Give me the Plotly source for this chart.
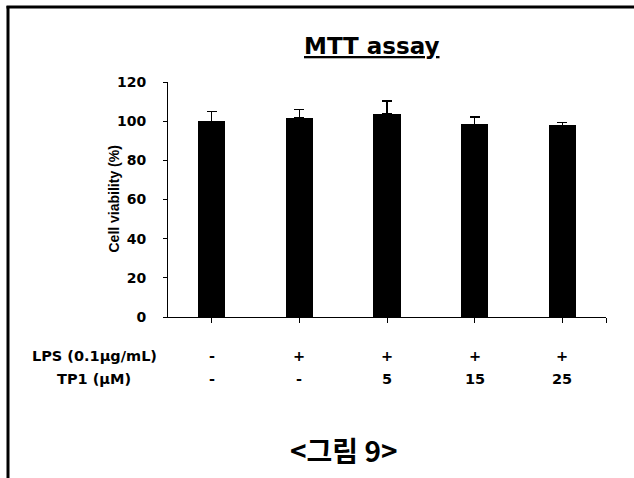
import plotly.graph_objects as go

# ---- data ----
categories = [0, 1, 2, 3, 4]
lps_labels = ["-", "+", "+", "+", "+"]
tp1_labels = ["-", "-", "5", "15", "25"]
viability = [100.0, 101.8, 103.9, 98.4, 97.9]
err_plus = [4.9, 4.1, 6.4, 3.7, 1.5]
y_ticks = [0, 20, 40, 60, 80, 100, 120]

W, H = 634, 478
ML, MR, MT, MB = 168, 28, 82, 161
PW, PH = W - ML - MR, H - MT - MB


def px(x):
    return (x - ML) / PW


def py(y):
    return (H - MB - y) / PH


FONT = "DejaVu Sans"

fig = go.Figure()
fig.add_trace(go.Bar(
    x=categories, y=viability, width=0.31,
    marker=dict(color="black", line=dict(width=0)),
    error_y=dict(type="data", symmetric=False, array=err_plus,
                 arrayminus=[0] * len(err_plus), color="black",
                 thickness=1.3, width=5),
    showlegend=False,
))

annotations = []
annotations.append(dict(text="<u>MTT assay</u>", x=px(372), y=py(46), xref="paper", yref="paper",
                        showarrow=False, xanchor="center", yanchor="middle",
                        font=dict(family=FONT, size=23, color="black", weight=700)))
annotations.append(dict(text="Cell viability (%)", x=px(113), y=0.5, xref="paper", yref="paper",
                        textangle=-90, showarrow=False, xanchor="center", yanchor="middle",
                        font=dict(family="Liberation Sans", size=14, color="black", weight=700)))
row_y = [356, 379]
for lab, yy in zip(["LPS (0.1μg/mL)", "TP1 (μM)"], row_y):
    annotations.append(dict(text=lab, x=px(94), y=py(yy), xref="paper", yref="paper",
                            showarrow=False, xanchor="center", yanchor="middle",
                            font=dict(family=FONT, size=14.5, color="black", weight=700)))
for c, l1, l2 in zip(categories, lps_labels, tp1_labels):
    for lab, yy in zip([l1, l2], row_y):
        annotations.append(dict(text=lab, x=c, y=py(yy), xref="x", yref="paper",
                                showarrow=False, xanchor="center", yanchor="middle",
                                font=dict(family=FONT, size=14.5, color="black", weight=700)))
annotations.append(dict(text="<그림 9>", x=px(343), y=py(450), xref="paper", yref="paper",
                        showarrow=False, xanchor="center", yanchor="middle",
                        font=dict(family="Noto Sans CJK KR", size=28, color="black", weight=700)))

shapes = [
    dict(type="line", xref="paper", yref="paper", x0=px(8), x1=px(8), y0=py(6), y1=py(H + 5),
         line=dict(color="black", width=3)),
    dict(type="line", xref="paper", yref="paper", x0=px(6.5), x1=px(W + 5), y0=py(7), y1=py(7),
         line=dict(color="black", width=3)),
]

fig.update_layout(
    width=W, height=H,
    margin=dict(l=ML, r=MR, t=MT, b=MB, pad=0),
    paper_bgcolor="white", plot_bgcolor="white",
    annotations=annotations, shapes=shapes,
    xaxis=dict(range=[-0.5, 4.5], tickvals=categories + [4.5], ticktext=[""] * 6,
               ticks="outside", ticklen=5, tickcolor="black", tickwidth=1,
               showline=True, linecolor="black", linewidth=1, showgrid=False,
               zeroline=False, fixedrange=True),
    yaxis=dict(range=[0, 120], tickvals=y_ticks, ticks="outside", ticklen=4,
               tickcolor="black", tickwidth=1, showline=True, linecolor="black",
               linewidth=1, showgrid=False, zeroline=False, ticklabelstandoff=14,
               tickfont=dict(family=FONT, size=14, color="black", weight=700)),
    bargap=0,
)

fig.write_html("out.html", config={"displayModeBar": False},
               post_script="document.body.style.margin='0';document.body.style.overflow='hidden';")
